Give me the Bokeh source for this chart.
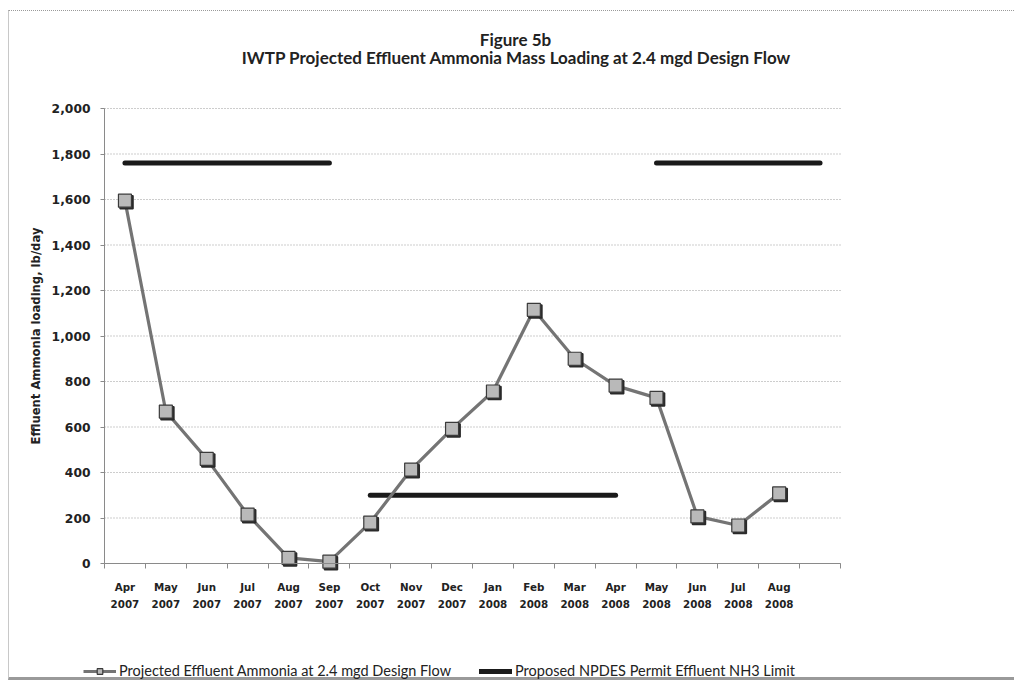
from bokeh.plotting import figure
from bokeh.models import FixedTicker, Legend, LegendItem, Label, LinearAxis
from bokeh.embed import file_html
from bokeh.resources import INLINE

# Monthly categories (the last slot carries no label on the axis)
categories = ["Apr 2007", "May 2007", "Jun 2007", "Jul 2007", "Aug 2007", "Sep 2007",
              "Oct 2007", "Nov 2007", "Dec 2007", "Jan 2008", "Feb 2008", "Mar 2008",
              "Apr 2008", "May 2008", "Jun 2008", "Jul 2008", "Aug 2008", "Sep 2008"]
tick_labels = ["Apr\n2007", "May\n2007", "Jun\n2007", "Jul\n2007", "Aug\n2007", "Sep\n2007",
               "Oct\n2007", "Nov\n2007", "Dec\n2007", "Jan\n2008", "Feb\n2008", "Mar\n2008",
               "Apr\n2008", "May\n2008", "Jun\n2008", "Jul\n2008", "Aug\n2008", ""]

# Projected effluent ammonia, lb/day (Apr 2007 - Aug 2008)
projected = [1595, 668, 460, 215, 25, 8, 180, 413, 592, 756, 1115, 900, 782, 728, 207, 167, 308]

# Proposed permit limit periods, lb/day
limit_from = ["Apr 2007", "Oct 2007", "May 2008"]
limit_to = ["Sep 2007", "Apr 2008", "Sep 2008"]
limit_value = [1760, 300, 1760]

y_ticks = [0, 200, 400, 600, 800, 1000, 1200, 1400, 1600, 1800, 2000]
y_max = 2000

idx = {c: i for i, c in enumerate(categories)}
x_proj = [idx[c] for c in categories[:len(projected)]]
n = len(categories)

# page geometry (pixels): canvas sits inside a thin page frame
W, H = 1006, 670
off_x, off_y = 9, 11
plot_left, plot_right = 104 - off_x, 840 - off_x      # value area, horizontally
plot_top, plot_zero = 108 - off_y, 563 - off_y        # y = 2000 and y = 0 rows
px_per_unit = (plot_zero - plot_top) / y_max
px_per_cat = (plot_right - plot_left) / n

# The frame covers the whole canvas so that titles, axes and legend all live
# inside it; axes are pinned to the value area and bounded to it.
x_lo = -0.5 - plot_left / px_per_cat
x_hi = n - 0.5 + (W - plot_right) / px_per_cat
y_lo = -(H - plot_zero) / px_per_unit
y_hi = plot_zero / px_per_unit


def sx(px):  # canvas pixel column -> x data
    return (px - plot_left) / px_per_cat - 0.5


def sy(py):  # canvas pixel row -> y data
    return (plot_zero - py) / px_per_unit


p = figure(width=W, height=H, output_backend="svg", toolbar_location=None,
           x_range=(x_lo, x_hi), y_range=(y_lo, y_hi),
           min_border=0, x_axis_location=None, y_axis_location=None)
p.styles = {"margin-left": "8px", "margin-top": "10px",
            "border-top": "1px dotted #9a9a9a", "border-left": "1px solid #c8c8c8",
            "border-bottom": "3px solid #9a9a9a"}
p.outline_line_color = None
p.background_fill_color = "white"
p.border_fill_color = "white"
p.xgrid.visible = False
p.ygrid.visible = False

# horizontal dotted gridlines across the value area
p.segment(x0=[-0.5] * len(y_ticks), x1=[n - 0.5] * len(y_ticks), y0=y_ticks, y1=y_ticks,
          line_color="#9a9a9a", line_dash="1 2", line_width=1)

xaxis = LinearAxis(fixed_location=0, bounds=(-0.5, n - 0.5))
p.add_layout(xaxis, "below")
# x axis: labels at category centres, tick marks at category boundaries
xaxis.ticker = FixedTicker(ticks=list(range(n)), minor_ticks=[i - 0.5 for i in range(n + 1)])
xaxis.major_label_overrides = {i: t for i, t in enumerate(tick_labels)}
xaxis.major_tick_line_color = None
xaxis.major_tick_out = 5
xaxis.minor_tick_in = 0
xaxis.minor_tick_out = 5
xaxis.minor_tick_line_color = "#8a8a8a"
xaxis.axis_line_color = "#8a8a8a"
xaxis.major_label_standoff = 12
xaxis.major_label_text_font = "DejaVu Sans"
xaxis.major_label_text_font_style = "bold"
xaxis.major_label_text_font_size = "10.3px"
xaxis.major_label_text_color = "#222222"
xaxis.major_label_text_line_height = 1.45

yaxis = LinearAxis(fixed_location=-0.5, bounds=(0, y_max))
p.add_layout(yaxis, "left")
yaxis.ticker = FixedTicker(ticks=y_ticks)
yaxis.major_label_overrides = {v: f"{v:,}" for v in y_ticks}
yaxis.minor_tick_line_color = None
yaxis.major_tick_in = 0
yaxis.major_tick_out = 4
yaxis.major_tick_line_color = "#8a8a8a"
yaxis.axis_line_color = "#8a8a8a"
yaxis.major_label_standoff = 10
yaxis.major_label_text_font = "DejaVu Sans"
yaxis.major_label_text_font_style = "bold"
yaxis.major_label_text_font_size = "12.3px"
yaxis.major_label_text_color = "#222222"
yaxis.axis_label = "Effluent Ammonia loading, lb/day"
yaxis.axis_label_text_font = "DejaVu Sans"
yaxis.axis_label_text_font_style = "bold"
yaxis.axis_label_text_font_size = "11.6px"
yaxis.axis_label_text_color = "#222222"
yaxis.axis_label_standoff = 6

# permit limit segments
limit_renderers = []
for a, b, v in zip(limit_from, limit_to, limit_value):
    r = p.line([idx[a], idx[b]], [v, v], line_color="#1a1a1a", line_width=5, line_cap="round")
    limit_renderers.append(r)

# projected loading series, markers carry a small dark drop shadow
proj_line = p.line(x_proj, projected, line_color="#747474", line_width=3.2)
shadow_dx, shadow_dy = 1.6 / px_per_cat, 1.6 / px_per_unit
p.scatter([x + shadow_dx for x in x_proj], [v - shadow_dy for v in projected],
          marker="square", size=13, fill_color="#2a2a2a", line_color="#2a2a2a", line_width=1.5)
proj_pts = p.scatter(x_proj, projected, marker="square", size=13,
                     fill_color="#b9b9b9", line_color="#3a3a3a", line_width=1.2)

title_font = "Lato"
p.add_layout(Label(x=sx(515 - off_x), y=sy(39 - off_y), text="Figure 5b",
                   text_align="center", text_baseline="middle", text_font=title_font,
                   text_font_style="bold", text_font_size="17px", text_color="#222222"))
p.add_layout(Label(x=sx(516 - off_x), y=sy(57 - off_y),
                   text="IWTP Projected Effluent Ammonia Mass Loading at 2.4 mgd Design Flow",
                   text_align="center", text_baseline="middle", text_font=title_font,
                   text_font_style="bold", text_font_size="17px", text_color="#222222"))

legend = Legend(items=[
    LegendItem(label="Projected Effluent Ammonia at 2.4 mgd Design Flow", renderers=[proj_line, proj_pts]),
    LegendItem(label="Proposed NPDES Permit Effluent NH3 Limit", renderers=[limit_renderers[0]]),
], orientation="horizontal", location=(83 - off_x, H - (679 - off_y)), padding=0, margin=0,
    spacing=28, glyph_width=33, glyph_height=14, label_standoff=3, border_line_color=None,
    background_fill_alpha=0, label_text_font=title_font, label_text_font_size="14.5px",
    label_text_color="#222222", label_height=14)
p.add_layout(legend, "center")

open("out.html", "w").write(file_html(p, INLINE))
